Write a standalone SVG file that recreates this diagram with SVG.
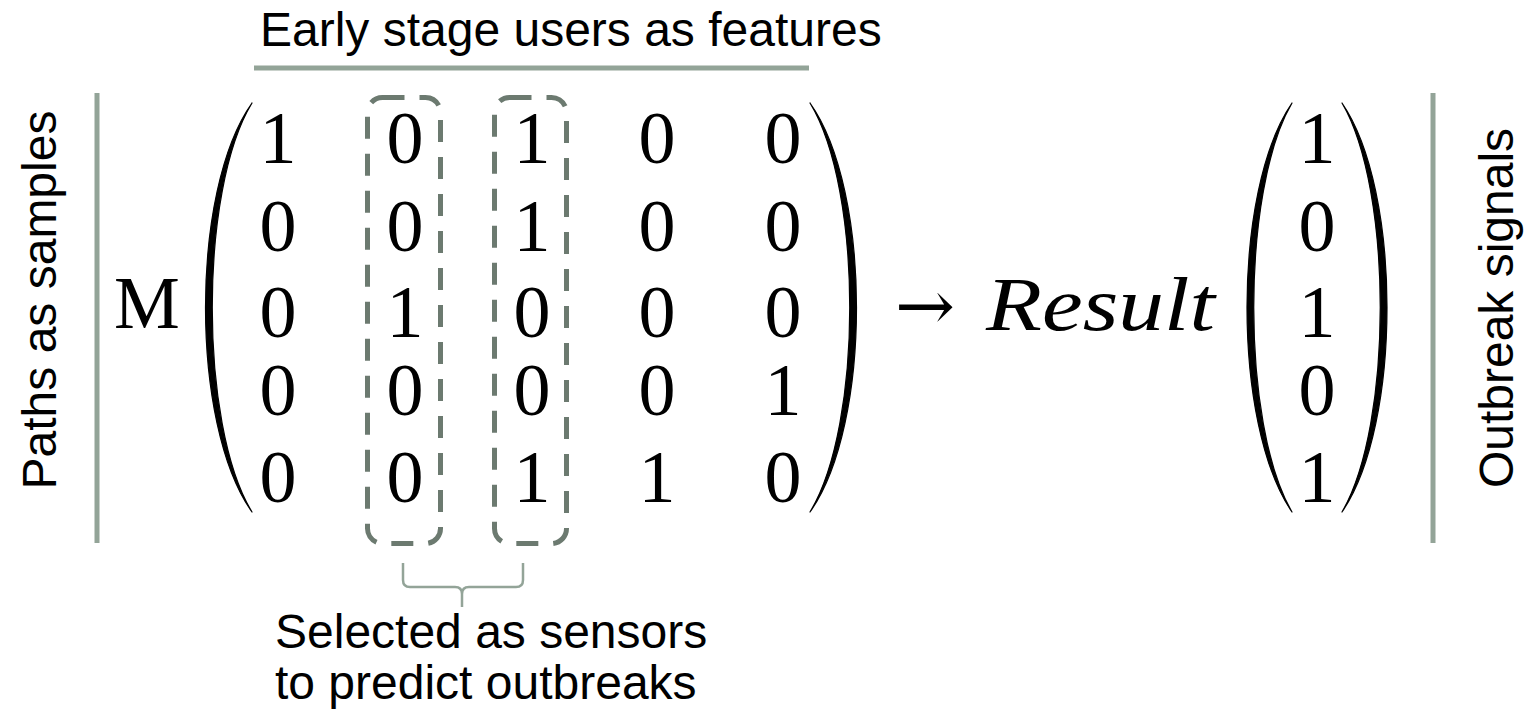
<svg xmlns="http://www.w3.org/2000/svg" width="1526" height="712" viewBox="0 0 1526 712">
<style>
.lbl{font-family:"Liberation Sans",Arial,sans-serif;font-size:48px;fill:#000}
.math{font-family:"Liberation Serif","Times New Roman",serif;font-size:74px;fill:#000;text-anchor:middle}
.rule{stroke:#93a498;stroke-width:5;fill:none}
.box{fill:none;stroke:#6c7a70;stroke-width:5;stroke-dasharray:22 15}
.brace{fill:none;stroke:#93a498;stroke-width:2.5}
.paren{fill:#000;stroke:#000;stroke-width:1.2;stroke-linejoin:round}
</style>
<rect width="1526" height="712" fill="#fff"/>
<g id="title">
<text class="lbl" x="260" y="46">Early stage users as features</text>
<line class="rule" x1="254" y1="68" x2="809" y2="68"/>
</g>
<g id="left-label">
<line class="rule" x1="97" y1="93" x2="97" y2="543"/>
<text class="lbl" transform="translate(56,300) rotate(-90)" text-anchor="middle">Paths as samples</text>
</g>
<g id="right-label">
<line class="rule" x1="1433" y1="93" x2="1433" y2="543"/>
<text class="lbl" transform="translate(1513,308) rotate(-90)" text-anchor="middle">Outbreak signals</text>
</g>
<g id="matrix">
<text class="math" x="147" y="328">M</text>
<path class="paren" d="M252,103 C190,190 190,425 252,512 C199,425 199,190 252,103 Z"/>
<path class="paren" d="M810,103 C872,190 872,425 810,512 C863,425 863,190 810,103 Z"/>
<g>
<text class="math" x="278" y="163">1</text><text class="math" x="405" y="163">0</text><text class="math" x="532" y="163">1</text><text class="math" x="657" y="163">0</text><text class="math" x="783" y="163">0</text>
<text class="math" x="278" y="251">0</text><text class="math" x="405" y="251">0</text><text class="math" x="532" y="251">1</text><text class="math" x="657" y="251">0</text><text class="math" x="783" y="251">0</text>
<text class="math" x="278" y="337">0</text><text class="math" x="405" y="337">1</text><text class="math" x="532" y="337">0</text><text class="math" x="657" y="337">0</text><text class="math" x="783" y="337">0</text>
<text class="math" x="278" y="415">0</text><text class="math" x="405" y="415">0</text><text class="math" x="532" y="415">0</text><text class="math" x="657" y="415">0</text><text class="math" x="783" y="415">1</text>
<text class="math" x="278" y="502">0</text><text class="math" x="405" y="502">0</text><text class="math" x="532" y="502">1</text><text class="math" x="657" y="502">1</text><text class="math" x="783" y="502">0</text>
</g>
</g>
<g id="sensor-box-1"><rect class="box" x="367.5" y="97.5" width="73" height="446" rx="15"/></g>
<g id="sensor-box-2"><rect class="box" x="494.5" y="97.5" width="72" height="446" rx="15"/></g>
<g id="result">
<text x="895" y="330" font-family="'DejaVu Serif','DejaVu Sans',serif" font-size="70" textLength="60" lengthAdjust="spacingAndGlyphs">→</text>
<text x="986" y="330" font-family="'Liberation Serif','Times New Roman',serif" font-style="italic" font-size="76" textLength="229" lengthAdjust="spacingAndGlyphs">Result</text>
</g>
<g id="vector">
<path class="paren" d="M1292,103 C1232,190 1232,425 1292,512 C1241,425 1241,190 1292,103 Z"/>
<path class="paren" d="M1342,103 C1402,190 1402,425 1342,512 C1393,425 1393,190 1342,103 Z"/>
<text class="math" x="1317" y="163">1</text>
<text class="math" x="1317" y="251">0</text>
<text class="math" x="1317" y="337">1</text>
<text class="math" x="1317" y="415">0</text>
<text class="math" x="1317" y="502">1</text>
</g>
<g id="connectors">
<path class="brace" d="M403,563 L403,580 Q403,587 410,587 L455,587 Q462,587 462,594 L462,607 M462,594 Q462,587 469,587 L516,587 Q523,587 523,580 L523,563"/>
</g>
<g id="sensor-label">
<text class="lbl" x="275" y="648">Selected as sensors</text>
<text class="lbl" x="275" y="699">to predict outbreaks</text>
</g>
</svg>
